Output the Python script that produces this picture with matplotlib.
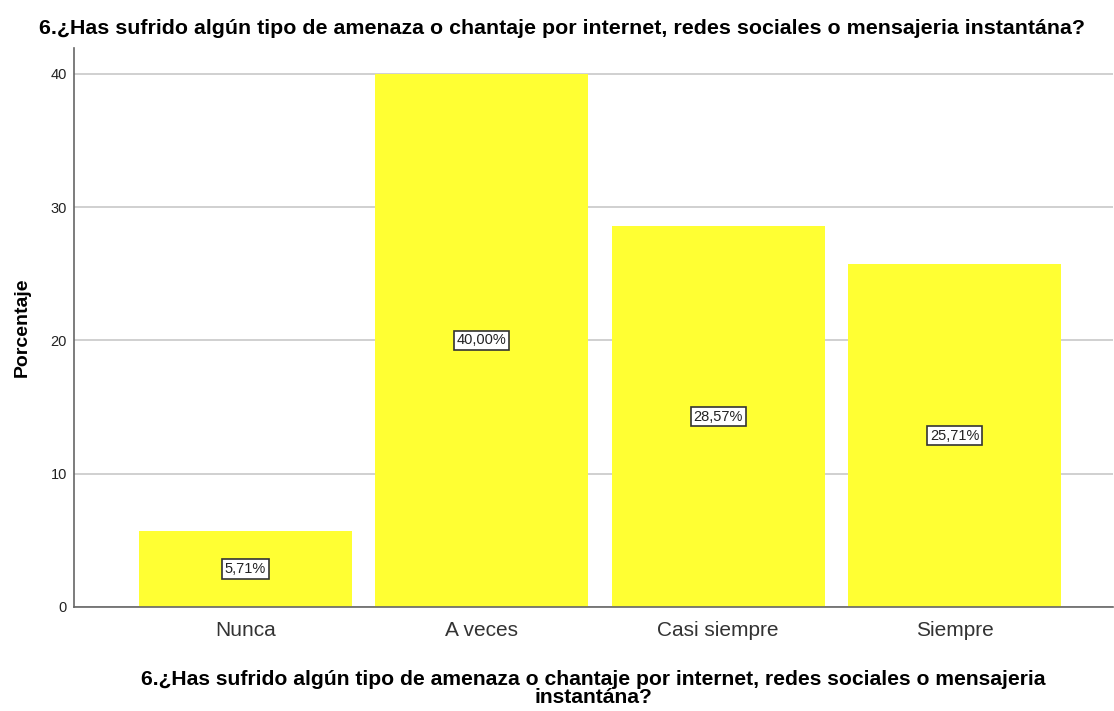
import matplotlib.pyplot as plt

categorias = ['Nunca', 'A veces', 'Casi siempre', 'Siempre']
porcentajes = [5.71, 40.00, 28.57, 25.71]
etiquetas = ['5,71%', '40,00%', '28,57%', '25,71%']

titulo = '6.¿Has sufrido algún tipo de amenaza o chantaje por internet, redes sociales o mensajeria instantána?'
titulo_x = '6.¿Has sufrido algún tipo de amenaza o chantaje por internet, redes sociales o mensajeria\ninstantána?'

plt.rcParams['font.family'] = ['Liberation Sans', 'DejaVu Sans']

fig = plt.figure(figsize=(11.14, 7.11), dpi=100)
ax = fig.add_axes([74 / 1114, 1 - 607 / 711, (1113 - 74) / 1114, (607 - 48) / 711])

x = range(len(categorias))
ax.bar(x, porcentajes, width=0.9, color='#FFFF33', zorder=2)
for i, v in enumerate(porcentajes):
    ax.text(i, v / 2, etiquetas[i], ha='center', va='center', fontsize=10.5, color='#222222', zorder=3,
            bbox=dict(boxstyle='square,pad=0.18', facecolor='white', edgecolor='#333333', linewidth=1.2))

ax.set_xlim(-0.725, 3.67)
ax.set_ylim(0, 41.95)
ax.set_yticks([0, 10, 20, 30, 40])
ax.yaxis.grid(True, color='#C8C8C8', linewidth=1.2, zorder=0)
ax.set_axisbelow(True)
ax.set_xticks(list(x))
ax.set_xticklabels(categorias, fontsize=15, color='#333333')
ax.tick_params(axis='x', length=0, pad=10)
ax.tick_params(axis='y', length=0, labelsize=10.5, labelcolor='#222222', pad=5)

for s in ['top', 'right']:
    ax.spines[s].set_visible(False)
ax.spines['left'].set_color('#666666')
ax.spines['bottom'].set_color('#666666')
ax.spines['left'].set_linewidth(1.2)
ax.spines['bottom'].set_linewidth(1.2)

ax.set_ylabel('Porcentaje', fontsize=14, fontweight='bold', labelpad=14)
ax.set_xlabel(titulo_x, fontsize=15.2, fontweight='bold', labelpad=22, linespacing=0.88)
fig.text(562 / 1114, 1 - 28 / 711, titulo, ha='center', va='center', fontsize=15.4, fontweight='bold')

plt.savefig('out.png', dpi=100)
